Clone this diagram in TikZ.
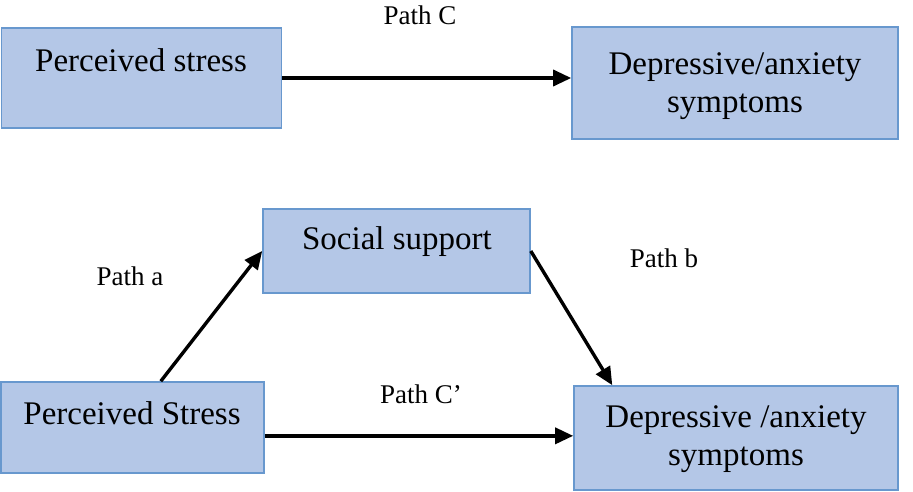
\documentclass[tikz,border=0pt]{standalone}
\usepackage{fontspec}
\setmainfont{Liberation Serif}
\usetikzlibrary{arrows.meta,calc}
\definecolor{boxfill}{RGB}{180,199,231}
\definecolor{boxline}{RGB}{104,152,206}
\tikzset{
  box/.style={draw=boxline,fill=boxfill,line width=1.6pt,rectangle,inner sep=0pt},
  boxtxt/.style={font=\fontsize{33}{38}\selectfont,align=center,inner sep=0pt},
  pathlbl/.style={font=\fontsize{27}{31}\selectfont,inner sep=0pt},
  conn/.style={line width=3.4pt,-{Triangle[length=18pt,width=16pt]}}
}
\begin{document}
\begin{tikzpicture}[x=1pt,y=-1pt]
\useasboundingbox (0,0) rectangle (913,492);
% boxes
\node[box,minimum width=280pt,minimum height=100pt] (ps1) at (141.5,78) {};
\node[box,minimum width=326pt,minimum height=112pt] (dep1) at (735,83) {};
\node[box,minimum width=267pt,minimum height=84pt] (ss) at (396.5,251) {};
\node[box,minimum width=263pt,minimum height=91pt] (ps2) at (132.5,427.5) {};
\node[box,minimum width=324pt,minimum height=104pt] (dep2) at (736,438) {};
% texts
\node[boxtxt] (t1) at (141,60) {Perceived stress};
\node[boxtxt] (t2) at (735,86) {Depressive/anxiety\\symptoms};
\node[boxtxt] (t3) at (397,242) {Social support};
\node[boxtxt] (t4) at (132,413) {Perceived Stress};
\node[boxtxt] (t5) at (736,439) {Depressive /anxiety\\symptoms};
% labels
\node[pathlbl] (lc) at (420,15) {Path C};
\node[pathlbl] (la) at (130,276) {Path a};
\node[pathlbl] (lb) at (664,258) {Path b};
\node[pathlbl] (lcp) at (421,394) {Path C’};
% connector end points
\coordinate (cps) at ($(ps2.north east)!0.59!(ps2.south east)$);
\coordinate (cdep) at (cps -| dep2.west);
% connectors
\draw[conn] (ps1.east) -- (ps1.east -| dep1.west);
\draw[conn] ($(ps2.north west)!0.607!(ps2.north east)$) -- (ss.west);
\draw[conn] (ss.east) -- ($(dep2.north west)!0.12!(dep2.north east)$);
\draw[conn] (cps) -- (cdep);
\end{tikzpicture}
\end{document}
